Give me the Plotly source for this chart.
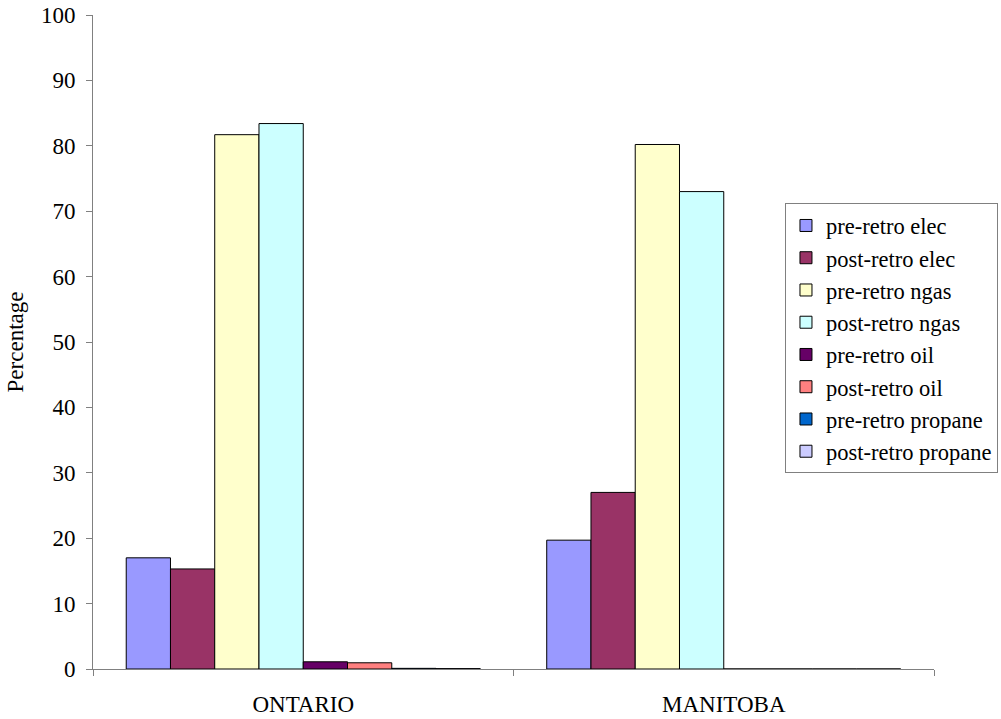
import plotly.graph_objects as go

categories = ["ONTARIO", "MANITOBA"]
series_names = ["pre-retro elec", "post-retro elec", "pre-retro ngas", "post-retro ngas",
                "pre-retro oil", "post-retro oil", "pre-retro propane", "post-retro propane"]
pre_elec = [17.0, 19.7]
post_elec = [15.3, 27.0]
pre_ngas = [81.7, 80.2]
post_ngas = [83.4, 73.0]
pre_oil = [1.1, 0.0]
post_oil = [0.95, 0.0]
pre_propane = [0.1, 0.0]
post_propane = [0.06, 0.0]
series_values = [pre_elec, post_elec, pre_ngas, post_ngas, pre_oil, post_oil, pre_propane, post_propane]
colors = ["#9999FF", "#993366", "#FFFFCC", "#CCFFFF", "#660066", "#FF8080", "#0066CC", "#CCCCFF"]
y_ticks = list(range(0, 101, 10))

FONT = "Liberation Serif, Times New Roman, serif"
FS = 23

fig = go.Figure()
for name, vals, col in zip(series_names, series_values, colors):
    fig.add_trace(go.Bar(
        x=categories, y=vals, name=name,
        marker=dict(color=col, line=dict(color="black", width=1)),
    ))

fig.update_layout(
    width=1001, height=719,
    margin=dict(l=93, r=67, t=15, b=50, autoexpand=False),
    paper_bgcolor="white", plot_bgcolor="white",
    font=dict(family=FONT, size=FS, color="black"),
    barmode="group", bargap=0.158, bargroupgap=0,
    showlegend=True,
    legend=dict(
        x=0.8228, y=0.712, xanchor="left", yanchor="top",
        bordercolor="#808080", borderwidth=1, bgcolor="white",
        font=dict(family=FONT, size=22.5, color="black"),
        itemwidth=30,
    ),
    xaxis=dict(
        showline=True, linecolor="#808080", linewidth=1, automargin=False,
        ticks="outside", tickson="boundaries", ticklen=6, tickcolor="#808080",
        showgrid=False, ticklabelstandoff=14,
        tickfont=dict(family=FONT, size=FS, color="black"),
    ),
    yaxis=dict(
        range=[0, 100], tickvals=y_ticks, showline=True, linecolor="#808080", linewidth=1,
        automargin=False,
        ticks="outside", ticklen=6, tickcolor="#808080", showgrid=False, zeroline=False,
        ticklabelstandoff=6, ticklabeloverflow="allow",
        tickfont=dict(family=FONT, size=FS, color="black"),
        title=dict(text="Percentage", font=dict(family=FONT, size=FS, color="black"), standoff=10),
    ),
)

fig.write_html(
    "out.html",
    config={"displayModeBar": False},
    post_script="document.body.style.margin='0';document.body.style.overflow='hidden';",
)
